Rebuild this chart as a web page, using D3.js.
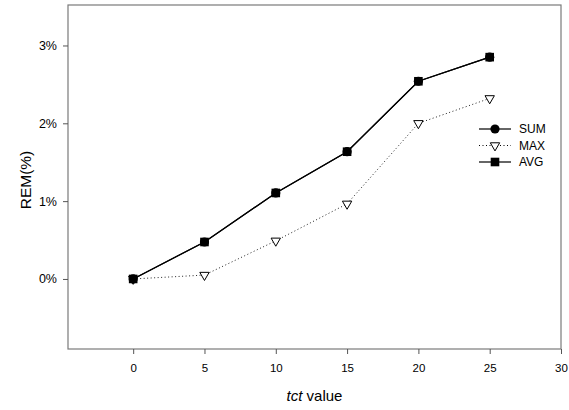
<!DOCTYPE html>
<html>
<head>
<meta charset="utf-8">
<script src="https://cdn.jsdelivr.net/npm/d3@7"></script>
<style>
  body { margin: 0; background: #fff; }
  svg { display: block; font-family: "Liberation Sans", Arial, sans-serif; }
</style>
</head>
<body>
<svg id="chart" width="569" height="410"></svg>
<script>
// tct values on the x axis
const tct = [0, 5, 10, 15, 20, 25];
// REM (%) for each aggregation method
const sumValues = [0, 0.475, 1.105, 1.635, 2.54, 2.85];
const maxValues = [0, 0.05, 0.49, 0.965, 2.0, 2.32];
const avgValues = [0, 0.475, 1.105, 1.635, 2.54, 2.85];
const xTicks = [0, 5, 10, 15, 20, 25, 30];
const yTicks = [0, 1, 2, 3];
const seriesNames = ["SUM", "MAX", "AVG"];

const svg = d3.select("#chart");
const plotLeft = 68, plotRight = 561, plotTop = 5, plotBottom = 349;

const x = d3.scaleLinear().domain([-4.57, 30]).range([plotLeft, plotRight]);
const y = d3.scaleLinear().domain([-0.9, 3.52]).range([plotBottom, plotTop]);

// frame
svg.append("rect")
  .attr("x", plotLeft).attr("y", plotTop)
  .attr("width", plotRight - plotLeft).attr("height", plotBottom - plotTop)
  .attr("fill", "none").attr("stroke", "#7a7a7a").attr("stroke-width", 1.2);

// axes
const xAxis = svg.append("g")
  .attr("transform", `translate(0,${plotBottom})`)
  .call(d3.axisBottom(x).tickValues(xTicks).tickSize(5).tickPadding(10).tickFormat(d3.format("d")));
const yAxis = svg.append("g")
  .attr("transform", `translate(${plotLeft},0)`)
  .call(d3.axisLeft(y).tickValues(yTicks).tickSize(5).tickPadding(6).tickFormat(d => d + "%"));
[xAxis, yAxis].forEach(g => {
  g.select(".domain").remove();
  g.selectAll(".tick line").attr("stroke", "#555").attr("stroke-width", 1);
  g.selectAll(".tick text").attr("fill", "#000")
    .attr("font-family", "Liberation Sans, Arial, sans-serif");
});
xAxis.selectAll(".tick text").attr("font-size", 11.5);
yAxis.selectAll(".tick text").attr("font-size", 12.5);

// axis titles
svg.append("text")
  .attr("transform", `translate(31,180) rotate(-90)`)
  .attr("text-anchor", "middle")
  .attr("font-size", 15.5).attr("fill", "#000")
  .text("REM(%)");
const xt = svg.append("text")
  .attr("x", (plotLeft + plotRight) / 2).attr("y", 401)
  .attr("text-anchor", "middle")
  .attr("font-size", 15).attr("fill", "#000");
xt.append("tspan").attr("font-style", "italic").text("tct");
xt.append("tspan").text(" value");

const line = d3.line().x((d, i) => x(tct[i])).y(d => y(d));

// MAX: dotted line with open down-triangles
svg.append("path").datum(maxValues)
  .attr("d", line).attr("fill", "none")
  .attr("stroke", "#222").attr("stroke-width", 1).attr("stroke-dasharray", "1,2.5");
// SUM / AVG: solid lines
svg.append("path").datum(sumValues)
  .attr("d", line).attr("fill", "none").attr("stroke", "#000").attr("stroke-width", 1.2);
svg.append("path").datum(avgValues)
  .attr("d", line).attr("fill", "none").attr("stroke", "#000").attr("stroke-width", 1.2);

const tri = d3.symbol().type(d3.symbolTriangle).size(38);
function drawTriangle(g, cx, cy) {
  g.append("path").attr("d", tri())
    .attr("transform", `translate(${cx},${cy}) rotate(180)`)
    .attr("fill", "#fff").attr("stroke", "#000").attr("stroke-width", 1);
}
function drawCircle(g, cx, cy) {
  g.append("circle").attr("cx", cx).attr("cy", cy).attr("r", 4.6).attr("fill", "#000");
}
function drawSquare(g, cx, cy) {
  g.append("rect").attr("x", cx - 4.3).attr("y", cy - 4.3)
    .attr("width", 8.6).attr("height", 8.6).attr("fill", "#000");
}

const marks = svg.append("g");
maxValues.forEach((v, i) => drawTriangle(marks, x(tct[i]), y(v)));
sumValues.forEach((v, i) => drawCircle(marks, x(tct[i]), y(v)));
avgValues.forEach((v, i) => drawSquare(marks, x(tct[i]), y(v)));

// legend
const legend = svg.append("g");
const rowY = [129, 145.5, 162];
seriesNames.forEach((name, i) => {
  const ly = rowY[i];
  legend.append("line")
    .attr("x1", 479).attr("x2", 511).attr("y1", ly).attr("y2", ly)
    .attr("stroke", "#000").attr("stroke-width", i === 1 ? 1 : 1.2)
    .attr("stroke-dasharray", i === 1 ? "1,2.5" : null);
  if (i === 0) drawCircle(legend, 495, ly);
  if (i === 1) drawTriangle(legend, 495, ly);
  if (i === 2) drawSquare(legend, 495, ly);
  legend.append("text")
    .attr("x", 519).attr("y", ly + 4.3)
    .attr("font-size", 12).attr("fill", "#000")
    .text(name);
});
</script>
</body>
</html>
